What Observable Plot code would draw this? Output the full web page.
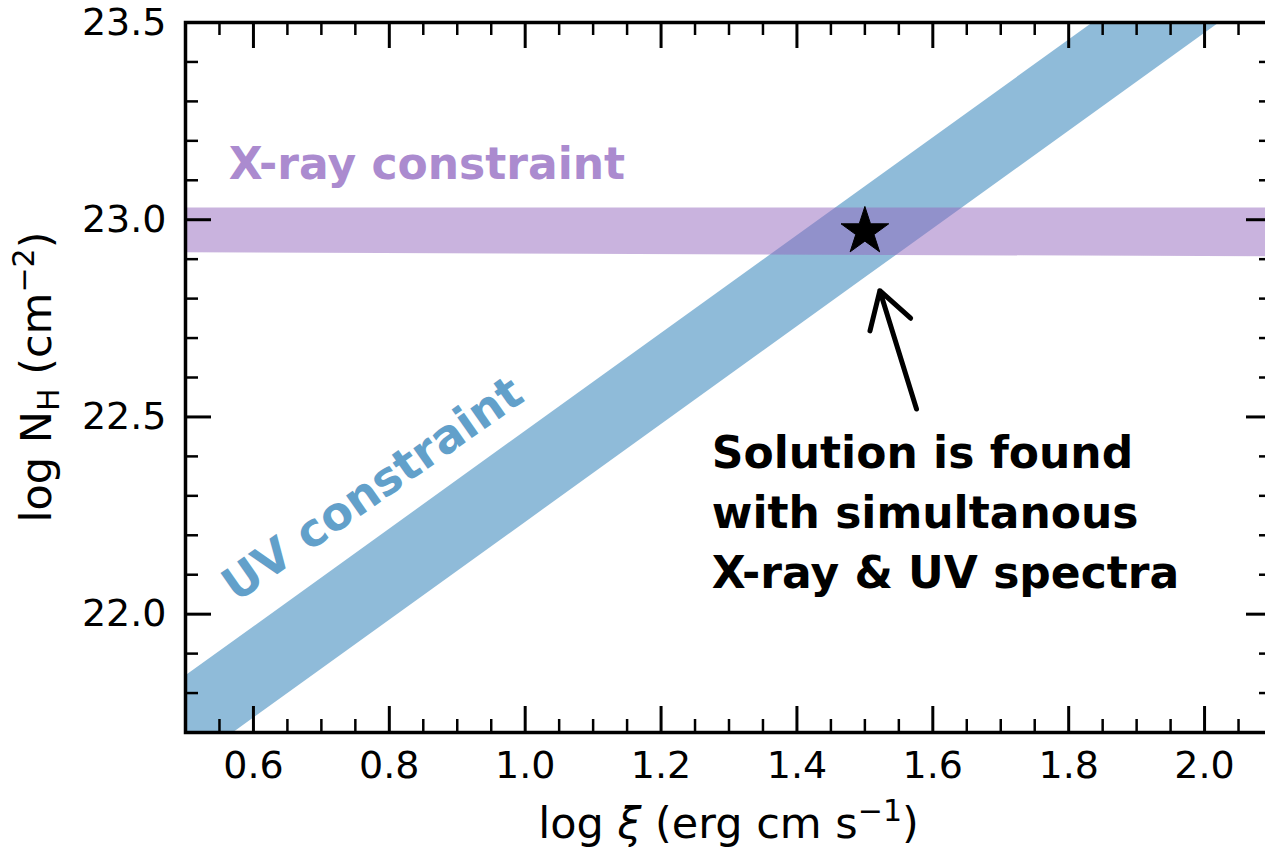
<!DOCTYPE html>
<html>
<head>
<meta charset="utf-8">
<script src="https://cdn.jsdelivr.net/npm/d3@7"></script>
<script src="https://cdn.jsdelivr.net/npm/@observablehq/plot@0.6"></script>
<style>
  html, body { margin: 0; padding: 0; background: #fff; overflow: hidden; }
  #chart svg { display: block; max-width: none !important; width: 1290px !important; height: 851px !important; }
</style>
</head>
<body>
<div id="chart"></div>
<script>
// Edges of the UV absorption constraint (log xi vs log N_H)
const uvXi    = [0.5, 1.0, 1.5, 2.0, 2.1];
const uvLower = [21.612, 22.232, 22.852, 23.472, 23.596];
const uvUpper = [21.843, 22.463, 23.083, 23.703, 23.827];

// Edges of the X-ray column-density constraint
const xrayXi    = [0.5, 2.1];
const xrayLower = [22.916, 22.906];
const xrayUpper = [23.03, 23.03];

// Joint solution and the pointer to it
const solutionXi = [1.5];
const solutionNh = [22.97];
const pointerFrom = [1.576, 22.52];
const pointerTo   = [1.522, 22.82];

// Tick positions
const xMajor = [0.6, 0.8, 1.0, 1.2, 1.4, 1.6, 1.8, 2.0];
const xMinor = [0.55, 0.65, 0.7, 0.75, 0.85, 0.9, 0.95, 1.05, 1.1, 1.15, 1.25, 1.3, 1.35,
                1.45, 1.5, 1.55, 1.65, 1.7, 1.75, 1.85, 1.9, 1.95, 2.05];
const yMajor = [22.0, 22.5, 23.0, 23.5];
const yMinor = [21.8, 21.9, 22.1, 22.2, 22.3, 22.4, 22.6, 22.7, 22.8, 22.9,
                23.1, 23.2, 23.3, 23.4];

// Annotation texts
const xrayLabel = "X-ray constraint";
const uvLabel = "UV constraint";
const noteLines = "Solution is found\nwith simultanous\nX-ray & UV spectra";

const W = 1290, H = 851;
const M = {top: 22, right: 18, bottom: 119, left: 185};
const FW = W - M.left - M.right;   // frame width in px
const FH = H - M.top - M.bottom;   // frame height in px
const MAJ = 26, MIN = 13;          // inward tick lengths

const blue = "#1f77b4", purple = "#9467bd";
const font = "DejaVu Sans";

const idx = a => d3.range(a.length);

const plot = Plot.plot({
  width: W, height: H,
  marginTop: M.top, marginRight: M.right, marginBottom: M.bottom, marginLeft: M.left,
  style: {fontFamily: font, background: "#fff", overflow: "visible", maxWidth: "none"},
  x: {domain: [0.5, 2.1]},
  y: {domain: [21.7, 23.5]},
  marks: [
    Plot.areaY(idx(uvXi), {x: i => uvXi[i], y1: i => uvLower[i], y2: i => uvUpper[i],
      fill: blue, fillOpacity: 0.5, clip: true}),
    Plot.areaY(idx(xrayXi), {x: i => xrayXi[i], y1: i => xrayLower[i], y2: i => xrayUpper[i],
      fill: purple, fillOpacity: 0.5, clip: true}),

    Plot.text([xrayLabel], {x: 0.5637, y: 23.138, text: d => d, textAnchor: "start",
      fill: "#ab8bcf", fontSize: 44, fontWeight: "bold"}),
    Plot.text([uvLabel], {x: 0.7757, y: 22.3165, text: d => d, rotate: -35,
      fill: "#62a0ca", fontSize: 46, fontWeight: "bold"}),
    Plot.text([noteLines], {x: 1.2746, y: 22.478, text: d => d, textAnchor: "start",
      lineAnchor: "top", lineHeight: 1.36, fill: "black", fontSize: 44, fontWeight: "bold"}),

    Plot.arrow([0], {x1: () => pointerFrom[0], y1: () => pointerFrom[1],
      x2: () => pointerTo[0], y2: () => pointerTo[1],
      stroke: "black", strokeWidth: 5, headLength: 25, headAngle: 62, strokeLinecap: "round"}),
    Plot.dot(idx(solutionXi), {x: i => solutionXi[i], y: i => solutionNh[i],
      symbol: "star", r: 15, fill: "black", stroke: "black", strokeWidth: 1}),

    // inward ticks on all four sides
    Plot.tickX(xMajor, {x: d => d, insetTop: FH - MAJ, stroke: "black", strokeWidth: 3}),
    Plot.tickX(xMajor, {x: d => d, insetBottom: FH - MAJ, stroke: "black", strokeWidth: 3}),
    Plot.tickX(xMinor, {x: d => d, insetTop: FH - MIN, stroke: "black", strokeWidth: 2.5}),
    Plot.tickX(xMinor, {x: d => d, insetBottom: FH - MIN, stroke: "black", strokeWidth: 2.5}),
    Plot.tickY(yMajor, {y: d => d, insetRight: FW - MAJ, stroke: "black", strokeWidth: 3}),
    Plot.tickY(yMajor, {y: d => d, insetLeft: FW - MAJ, stroke: "black", strokeWidth: 3}),
    Plot.tickY(yMinor, {y: d => d, insetRight: FW - MIN, stroke: "black", strokeWidth: 2.5}),
    Plot.tickY(yMinor, {y: d => d, insetLeft: FW - MIN, stroke: "black", strokeWidth: 2.5}),

    Plot.axisX(xMajor, {anchor: "bottom", tickSize: 0, tickPadding: 19, label: null,
      tickFormat: d3.format(".1f"), fontSize: 38}),
    Plot.axisY(yMajor, {anchor: "left", tickSize: 0, tickPadding: 19, label: null,
      tickFormat: d3.format(".1f"), fontSize: 38}),

    Plot.frame({stroke: "black", strokeWidth: 3.5})
  ]
});

document.getElementById("chart").appendChild(plot);

// Axis titles with sub/superscripts
const svg = d3.select(plot);
const cx = M.left + FW / 2;
const LF = 43, SF = 30;

const xt = svg.append("text")
  .attr("x", cx).attr("y", 838)
  .attr("text-anchor", "middle")
  .attr("font-family", font).attr("font-size", LF).attr("fill", "black");
xt.append("tspan").text("log ");
xt.append("tspan").attr("font-style", "italic").text("ξ");
xt.append("tspan").text(" (erg cm s");
xt.append("tspan").attr("dy", -17).attr("font-size", SF).text("−1");
xt.append("tspan").attr("dy", 17).text(")");

const yt = svg.append("text")
  .attr("transform", `translate(51,${M.top + FH / 2}) rotate(-90)`)
  .attr("text-anchor", "middle")
  .attr("font-family", font).attr("font-size", LF).attr("fill", "black");
yt.append("tspan").text("log N");
yt.append("tspan").attr("dy", 8).attr("font-size", SF).text("H");
yt.append("tspan").attr("dy", -8).text(" (cm");
yt.append("tspan").attr("dy", -17).attr("font-size", SF).text("−2");
yt.append("tspan").attr("dy", 17).text(")");
</script>
</body>
</html>
